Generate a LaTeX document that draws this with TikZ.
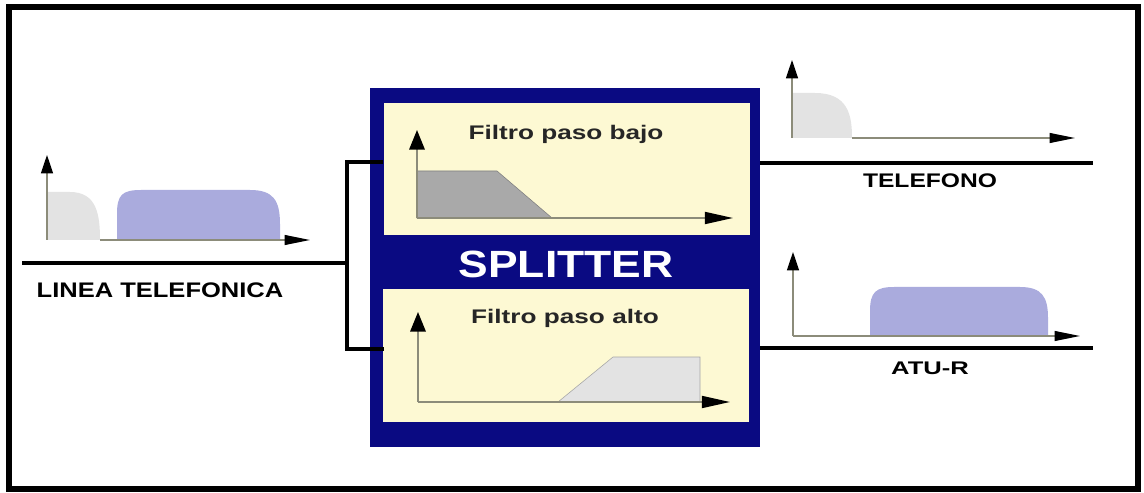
\documentclass[tikz,border=0pt]{standalone}
\usepackage{fontspec}
\setmainfont{Liberation Sans}
\usetikzlibrary{arrows.meta, positioning}
\definecolor{spnavy}{HTML}{0A0A82}
\definecolor{spcream}{HTML}{FDF9D3}
\definecolor{spblue}{HTML}{AAABDD}
\definecolor{splight}{HTML}{E3E3E3}
\definecolor{spgray}{HTML}{A9A9A9}
\definecolor{spaxis}{HTML}{8C8C7A}
\newcommand{\wide}[2][1.25]{\scalebox{#1}[1]{#2}}

\begin{document}
\begin{tikzpicture}[x=0.25mm, y=-0.25mm,
    wire/.style={line width=2.8pt},
    panel/.style={fill=spcream, minimum width=91.5mm, minimum height=33mm, inner sep=0pt},
    lbl/.style={anchor=base, inner sep=0pt, font=\bfseries\fontsize{14}{16}\selectfont},
    vaxis/.style={spaxis, line width=1pt, -{Triangle[length=13pt, width=8.5pt, color=black, fill=black]}},
    haxis/.style={spaxis, line width=1pt, -{Triangle[length=18pt, width=7pt, color=black, fill=black]}},
    vbig/.style={spaxis, line width=1.4pt, -{Triangle[length=14pt, width=11pt, color=black, fill=black]}},
    hbig/.style={spaxis, line width=1.4pt, -{Triangle[length=20pt, width=8.5pt, color=black, fill=black]}}]
    \useasboundingbox (0,0) rectangle (1144,493);
    % frame
    \draw[line width=3.6pt] (9,7) rectangle (1138,489);

    % splitter block
    \node[fill=spnavy, minimum width=97.5mm, minimum height=89.75mm, inner sep=0pt] (split) at (565,267.5) {};
    \node[panel] (lowpass) at (566.5,169) {};
    \node[panel] (highpass) at (566,355.5) {};
    \node[lbl, white, font=\bfseries\fontsize{27}{30}\selectfont] (title) at (566,277) {\wide[1.17]{SPLITTER}};
    \node[lbl, text=black!85] (lptxt) at (566,140) {\wide[1.33]{Filtro paso bajo}};
    \node[lbl, text=black!85] (hptxt) at (565,323) {\wide[1.33]{Filtro paso alto}};

    % low pass response
    \filldraw[fill=spgray, draw=gray] (417,218) -- (417,171) -- (497,171) -- (552,218) -- cycle;
    \draw[vbig] (417,218) -- (417,130);
    \draw[hbig] (417,218) -- (733,218);

    % high pass response
    \filldraw[fill=splight, draw=gray!70] (558,402) -- (613,357) -- (700,357) -- (700,402) -- cycle;
    \draw[vbig] (418,402) -- (418,312);
    \draw[hbig] (418,402) -- (730,402);

    % line side
    \coordinate (lin) at (22,263);
    \coordinate (jn) at (347,263);
    \coordinate (lpin) at (383,162);
    \coordinate (hpin) at (384,349);
    \draw[wire] (lin) -- (jn);
    \draw[wire] (lpin) -| (jn) |- (hpin);
    \node[lbl, font=\bfseries\fontsize{15}{17}\selectfont] (linea) at (160,298) {\wide[1.21]{LINEA TELEFONICA}};

    \fill[splight] (47,240) -- (47,192) -- (70,192) .. controls (97,192) and (100,215) .. (100,240) -- cycle;
    \fill[spblue] (117,240) -- (117,214) .. controls (117,195) and (122,190) .. (141,190)
        -- (250,190) .. controls (273,190) and (280,200) .. (280,224) -- (280,240) -- cycle;
    \draw[vaxis] (47,240) -- (47,155);
    \draw[haxis] (100,240) -- (310,240);

    % telefono side
    \coordinate (telout) at (1093,163);
    \draw[wire] (split.east |- telout) -- (telout);
    \node[lbl] (tel) at (930,188) {\wide[1.25]{TELEFONO}};
    \fill[splight] (792,138) -- (792,93) -- (815,93) .. controls (848,93) and (852,115) .. (852,138) -- cycle;
    \draw[vaxis] (792,138) -- (792,60);
    \draw[haxis] (852,138) -- (1075,138);

    % atu-r side
    \coordinate (atuout) at (1093,348);
    \draw[line width=2.2pt] (split.east |- atuout) -- (atuout);
    \node[lbl, font=\bfseries\fontsize{13}{15}\selectfont] (atu) at (930,374) {\wide[1.4]{ATU-R}};
    \fill[spblue] (870,336) -- (870,311) .. controls (870,292) and (876,287) .. (894,287)
        -- (1020,287) .. controls (1042,287) and (1048,297) .. (1048,318) -- (1048,336) -- cycle;
    \draw[vaxis] (793,336) -- (793,252);
    \draw[haxis] (793,336) -- (1080,336);
\end{tikzpicture}
\end{document}
